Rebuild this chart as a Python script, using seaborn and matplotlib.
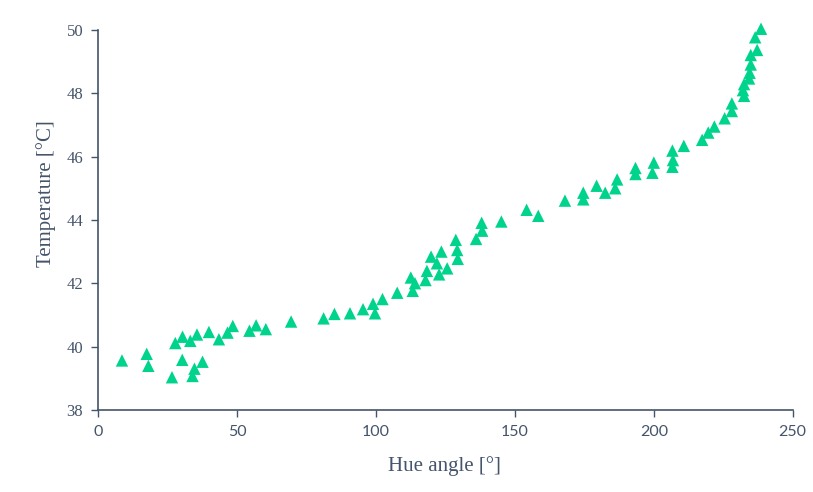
import matplotlib.pyplot as plt
import seaborn as sns
import pandas as pd

# hue angle [deg] and temperature [C]
hue = [8.5, 17.4, 18.0, 26.5, 27.7, 30.3, 30.2, 33.1, 33.9, 34.6, 35.5, 37.5,
       39.8, 43.4, 46.5, 48.4, 54.4, 56.8, 60.3, 69.4, 81.1, 85.0,
       90.6, 95.3, 98.9, 99.6, 102.3, 107.6, 112.5, 114.0, 113.2, 117.8,
       118.3, 119.8, 121.9, 122.7, 123.5, 125.6, 128.7, 129.2, 129.4, 136.0,
       138.2, 138.0, 145.1, 154.2, 158.4,
       168.0, 174.6, 174.6, 179.4, 182.5, 186.1, 186.8, 193.4, 193.4, 199.5,
       200.0, 206.7, 206.9, 206.7, 210.8, 217.4, 219.6, 221.8, 225.5, 228.1,
       228.1, 232.5, 232.1, 232.5, 234.3, 234.5, 234.9, 234.9, 237.2, 236.5,
       238.6]
temp = [39.56, 39.77, 39.39, 39.03, 40.11, 40.31, 39.58, 40.18, 39.07, 39.30, 40.38, 39.52,
        40.46, 40.23, 40.44, 40.65, 40.50, 40.67, 40.55, 40.79, 40.89, 41.03,
        41.05, 41.18, 41.35, 41.05, 41.50, 41.70, 42.18, 42.00, 41.76, 42.10,
        42.39, 42.84, 42.63, 42.28, 43.00, 42.47, 43.37, 43.05, 42.77, 43.40,
        43.66, 43.91, 43.95, 44.32, 44.13,
        44.61, 44.65, 44.86, 45.08, 44.86, 45.00, 45.28, 45.45, 45.64, 45.49,
        45.81, 45.68, 45.89, 46.19, 46.34, 46.53, 46.76, 46.95, 47.21, 47.44,
        47.68, 47.92, 48.10, 48.29, 48.47, 48.65, 48.91, 49.21, 49.37, 49.77,
        50.04]

xticks = [0, 50, 100, 150, 200, 250]
yticks = [38, 40, 42, 44, 46, 48, 50]

df = pd.DataFrame({'Hue angle': hue, 'Temperature': temp})

sns.set_style('white')
axis_col = '#44546A'

fig = plt.figure(figsize=(8.13, 4.92), dpi=100)
ax = fig.add_axes([0.121, 0.167, 0.854, 0.772])
sns.scatterplot(data=df, x='Hue angle', y='Temperature', marker='^', s=80,
                color='#00D48C', edgecolor='none', ax=ax, clip_on=False)

ax.set_xlim(0, 250)
ax.set_ylim(38, 50)
ax.set_xticks(xticks)
ax.set_yticks(yticks)
ax.set_xticklabels([str(t) for t in xticks], family='Lato', fontsize=11.5, color=axis_col)
ax.set_yticklabels([str(t) for t in yticks], family='Liberation Serif', fontsize=12, color=axis_col)
ax.tick_params(axis='both', direction='out', length=5, width=1, color=axis_col, pad=6,
               bottom=True, left=True)
ax.set_xlabel('Hue angle [°]', family='Liberation Serif', fontsize=15, color=axis_col)
ax.set_ylabel('Temperature [°C]', family='Liberation Serif', fontsize=15, color=axis_col)
ax.xaxis.set_label_coords(0.499, -0.121)
ax.yaxis.set_label_coords(-0.061, 0.568)

sns.despine(ax=ax)
for side in ['left', 'bottom']:
    ax.spines[side].set_color(axis_col)
    ax.spines[side].set_linewidth(1.2)

plt.savefig('out.png', dpi=100)
